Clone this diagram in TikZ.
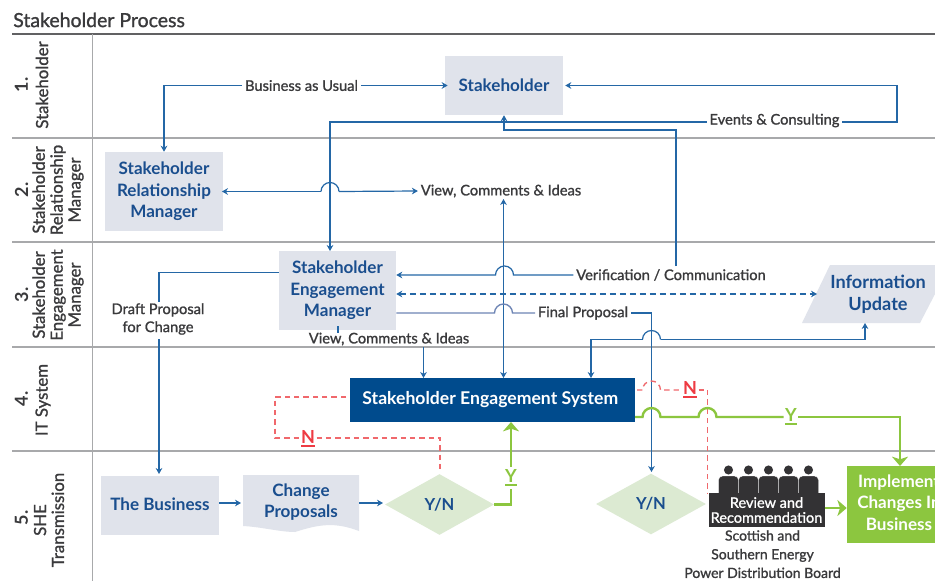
\documentclass[tikz,border=0pt]{standalone}
\usepackage{fontspec}
\setmainfont{Lato}
\newfontfamily\medfont[FakeBold=1.2]{Lato}
\usetikzlibrary{arrows.meta,shapes.geometric}
\definecolor{boxgray}{HTML}{E0E3EB}
\definecolor{bluetxt}{HTML}{1A4E8E}
\definecolor{linkblue}{HTML}{2467A6}
\definecolor{slate}{HTML}{6E85B5}
\definecolor{sysblue}{HTML}{004B8D}
\definecolor{leaf}{HTML}{8CC63F}
\definecolor{pale}{HTML}{DCEAD2}
\definecolor{redn}{HTML}{EE3B43}
\definecolor{reddash}{HTML}{F0686C}
\definecolor{ink}{HTML}{3A3A3C}
\definecolor{rule}{HTML}{A8A9AB}
\definecolor{blackbox}{HTML}{333234}
\newcommand{\barunder}[1]{\setbox0\hbox{#1}\rlap{\rule[-3pt]{\wd0}{1.7pt}}\box0}
\tikzset{
  px/.style={x=0.75pt,y=-0.75pt},
  proc/.style={fill=boxgray,text=bluetxt,font=\fontsize{12.8}{16}\selectfont\bfseries,align=center,inner sep=0pt},
  ctext/.style={text=bluetxt,font=\fontsize{12.8}{16}\selectfont\bfseries,align=center,inner sep=0pt},
  lbl/.style={text=ink,font=\fontsize{11}{13.5}\medfont\selectfont,align=center,inner sep=2pt},
  link/.style={draw=linkblue,line width=0.9pt,-{Stealth[length=4.5pt,width=5pt]}},
  twoway/.style={draw=linkblue,line width=0.9pt,{Stealth[length=4.5pt,width=5pt]}-{Stealth[length=4.5pt,width=5pt]}},
  plain/.style={draw=linkblue,line width=0.9pt},
  dashlink/.style={twoway,dash pattern=on 4.5pt off 3pt},
  greenline/.style={draw=leaf,line width=1.8pt},
  greenarrow/.style={greenline,-{Stealth[length=7pt,width=12pt,inset=2pt]}},
  reddashed/.style={draw=reddash,line width=1pt,dash pattern=on 4pt off 3pt},
  rowhead/.style={rotate=90,text=ink,font=\fontsize{12.6}{13.4}\medfont\selectfont,align=center,inner sep=0pt},
  rownum/.style={rotate=90,text=ink,font=\fontsize{13.5}{15}\selectfont\bfseries,inner sep=0pt},
  yesno/.style={diamond,aspect=1.8,fill=pale,text=bluetxt,font=\fontsize{12.4}{16}\selectfont\bfseries,inner sep=0pt},
  nlabel/.style={text=redn,font=\fontsize{13.5}{15}\selectfont\bfseries,inner sep=1pt,anchor=base},
  ylabel/.style={text=leaf,font=\fontsize{13.5}{15}\selectfont\bfseries,inner sep=1pt,anchor=base}
}
\begin{document}
\begin{tikzpicture}[px]
\path[use as bounding box,clip] (0,0) rectangle (935,581);
\fill[white] (0,0) rectangle (935,581);

% title and grid
\node[anchor=west,text=ink,inner sep=0pt,font=\fontsize{14.6}{16}\medfont\selectfont] (title) at (13,20) {Stakeholder Process};
\draw[draw=ink!80,line width=0.9pt] (12,34) -- (935,34);
\foreach \yy in {138,242,347,451} \draw[rule,line width=0.9pt] (12,\yy) -- (935,\yy);
\draw[rule,line width=0.9pt] (92.5,34) -- (92.5,581);

% row headers
\node[rownum] (n1) at (21.5,85) {1.};
\node[rowhead] (h1) at (42,85) {Stakeholder};
\node[rownum] (n2) at (21.5,190) {2.};
\node[rowhead] (h2) at (58,190) {Stakeholder\\Relationship\\Manager};
\node[rownum] (n3) at (21.5,295) {3.};
\node[rowhead] (h3) at (58,295) {Stakeholder\\Engagement\\Manager};
\node[rownum] (n4) at (21.5,399) {4.};
\node[rowhead] (h4) at (43,400) {IT System};
\node[rownum] (n5) at (21.5,518) {5.};
\node[rowhead] (h5) at (49,520) {SHE\\Transmission};

% process boxes
\node[proc,minimum width=88.5pt,minimum height=44.25pt] (stake) at (504,85.5) {Stakeholder};
\node[proc,minimum width=88.5pt,minimum height=59.25pt] (srm) at (164,191.5) {Stakeholder\\Relationship\\Manager};
\node[proc,minimum width=87.75pt,minimum height=59.25pt] (sem) at (337.5,290.5) {Stakeholder\\Engagement\\Manager};
\fill[boxgray] (830,265) -- (950,265) -- (920,323) -- (802,323) -- cycle;
\node[ctext,font=\fontsize{13.6}{16.5}\selectfont\bfseries] (info) at (878,294) {Information\\Update};
\node[fill=sysblue,text=white,font=\fontsize{13.2}{15}\selectfont\bfseries,minimum width=214pt,minimum height=32.6pt,inner sep=0pt] (ses) at (492.3,400) {\hspace*{-3pt}Stakeholder Engagement System};
\node[proc,minimum width=88.5pt,minimum height=44.25pt] (biz) at (160,505.5) {\raisebox{1.5pt}{The Business}};
\fill[boxgray] (243,475) -- (359,475) -- (359,531) .. controls (335,522) and (320,524) .. (295,532) .. controls (280,532) and (262,527) .. (243,526) -- cycle;
\node[ctext] (chg) at (301,502) {Change\\Proposals};
\node[yesno,minimum width=81.75pt,minimum height=45.6pt] (yn1) at (439.5,504.5) {Y/N};
\node[yesno,minimum width=82.5pt,minimum height=45.6pt] (yn2) at (651,504) {Y/N};

% board members
\foreach \px in {728.5,748.5,768.5,788.5,808.5}{
  \fill[blackbox] (\px,470) circle[radius=3.4pt];
  \filldraw[fill=blackbox,draw=white,line width=0.3pt,rounded corners=3pt] (\px-10,494) -- (\px-10,476) -- (\px+10,476) -- (\px+10,494);
}
\node[fill=blackbox,text=white,font=\fontsize{10.9}{11.2}\medfont\selectfont,align=center,minimum width=87pt,minimum height=25.5pt,inner sep=0pt] (board) at (766.5,510) {Review and\\Recommendation};
\node[lbl,anchor=north,font=\fontsize{10.5}{14}\medfont\selectfont,inner sep=0pt] (boardname) at (762.5,530) {Scottish and\\Southern Energy\\Power Distribution Board};
\node[fill=leaf,text=white,font=\fontsize{12.8}{16}\selectfont\bfseries,align=center,minimum width=78pt,minimum height=57.75pt,inner sep=0pt] (impl) at (899,504.5) {\raisebox{1.5pt}{\begin{tabular}{@{}c@{}}Implement\\Changes In\\Business\end{tabular}}};

% labels
\node[lbl] (bau) at (301.5,85.5) {Business as Usual};
\node[lbl] (ec) at (774.5,120.5) {Events \& Consulting};
\node[lbl] (vci) at (501,191) {View, Comments \& Ideas};
\node[lbl] (vc) at (671,275) {Verification / Communication};
\node[lbl] (fp) at (583,313) {Final Proposal};
\node[lbl] (vci2) at (389,339) {View, Comments \& Ideas};
\node[lbl] (dp) at (158,319) {Draft Proposal\\for Change};
\node[nlabel] (n-left) at (308,443) {\barunder{N}};
\node[nlabel] (n-right) at (690,394) {\barunder{N}};
\node[ylabel] (y-left) at (511,482) {\barunder{Y}};
\node[ylabel] (y-right) at (791,421) {\barunder{Y}};

% named ends
\coordinate (semtop) at (330,251);
\coordinate (vctop) at (676,266);
\coordinate (dashy) at (0,294);
\coordinate (syscomm) at (503.5,378);
\coordinate (vciup) at (503.5,199);
\coordinate (sestop) at (591,378);
\coordinate (infolow) at (865,323);
\coordinate (sestap) at (423.5,378);
\coordinate (vci2low) at (423.5,347);
\coordinate (semtick) at (338,326);
\coordinate (ticklow) at (338,333);
\coordinate (dpin) at (159,302);
\coordinate (dpout) at (159,339);
\coordinate (biztop) at (159,474);
\coordinate (ynred) at (440,472);
\coordinate (revtop) at (707.5,493);

% blue connectors
\draw[link,shorten >=-2.2pt] (bau.east) -- (stake.west);
\draw[link] (bau.west) -| (srm.north);
\draw[link,shorten >=1.5pt] (ec.east |- 0,122) -- (897,122) |- (stake.east);
\draw[link] (ec.west |- 0,122) -- (330,122) -- (semtop);
\draw[link] (vctop) -- (676,130) -- (504,130) -- (stake.south);
\draw[link] (vc.west) -- (513.5,275) arc[start angle=0,end angle=180,radius=6.75pt] -- (sem.east |- vc);
\draw[link,shorten >=-1pt] (321,191.5) -- (srm.east);
\draw[plain] (321,191.5) arc[start angle=180,end angle=0,radius=6.75pt];
\draw[link] (339,191.5) -- (vci.west);
\draw[twoway] (syscomm) -- (vciup);
\draw[dashlink] (sem.east |- dashy) -- (817,294);
\draw[draw=slate,line width=1pt] (sem.east |- fp) -- (494.5,313) arc[start angle=180,end angle=0,radius=6.75pt] -- (fp.west);
\draw[link] (fp.east) -- (651.5,313) -- (651.5,472);
\draw[link] (642.5,339.5) -- (591,339.5) -- (sestop);
\draw[plain] (642.5,339.5) arc[start angle=180,end angle=0,radius=6.75pt];
\draw[link] (660.5,339.5) -- (865,339.5) -- (infolow);
\draw[plain] (semtick) -- (ticklow);
\draw[link] (vci2low) -- (sestap);
\draw[plain] (sem.west |- 0,272.5) -- (159,272.5) -- (dpin);
\draw[link] (dpout) -- (biztop);
\draw[link] (biz.east |- 0,503) -- (241,503);
\draw[link] (359,503) -- (383,503);

% red dashed
\draw[reddashed] (346,397) -- (275,397) -- (275,438) -- (n-left.west |- 0,438);
\draw[reddashed] (n-left.east |- 0,438) -- (440,438) -- (ynred);
\draw[reddashed] (637,390) -- (642.5,390) arc[start angle=180,end angle=0,radius=6.75pt] -- (n-right.west |- 0,390);
\draw[reddashed] (n-right.east |- 0,390) -- (707.8,390) -- (707.8,493);

% green
\draw[greenline] (yn1.east) -- (511,504.5) -- (511,489);
\draw[greenarrow] (511,467) -- (511,422);
\draw[greenline] (635,417) -- (642.5,417) arc[start angle=180,end angle=0,radius=6.75pt] -- (698.5,417) arc[start angle=180,end angle=0,radius=6.75pt] -- (y-right.west |- 0,417);
\draw[greenarrow] (y-right.east |- 0,417) -- (900,417) -- (900,466);
\draw[greenarrow] (board.east |- 0,508) -- (impl.west |- 0,508);
\end{tikzpicture}
\end{document}
